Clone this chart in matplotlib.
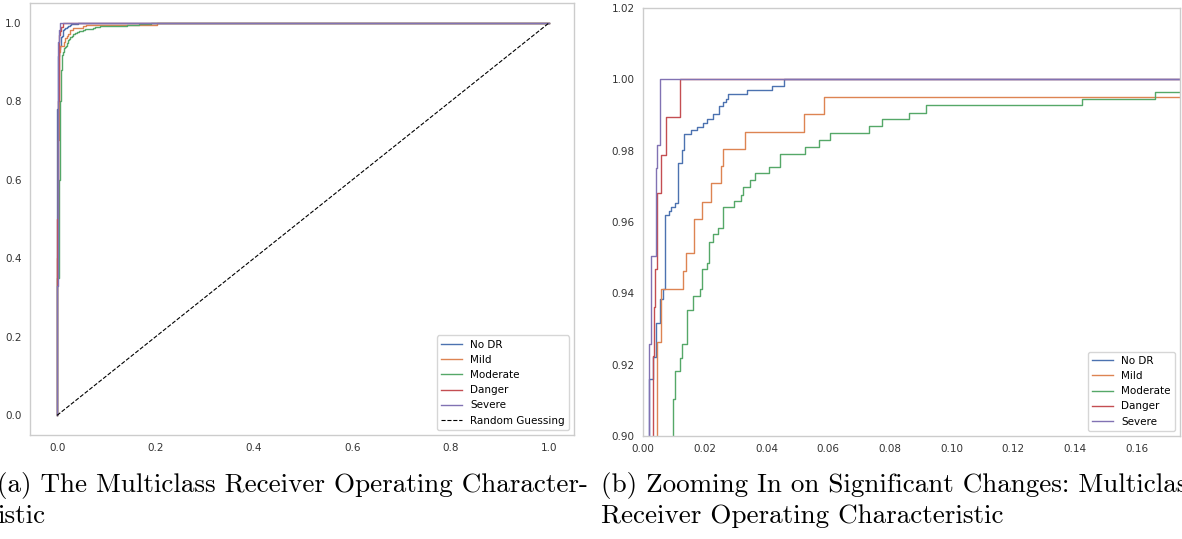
import matplotlib
matplotlib.use("Agg")
import matplotlib.pyplot as plt

# ---- data (ROC corner points) ----
class_names = ["No DR", "Mild", "Moderate", "Danger", "Severe"]
class_colors = ["#4c72b0", "#dd8452", "#55a868", "#c44e52", "#8172b3"]

fpr_nodr = [0, 0, 0.0010, 0.0020, 0.0031, 0.0042, 0.0055, 0.0064, 0.0072, 0.0083, 0.0092,
            0.0103, 0.0112, 0.0125, 0.0134, 0.0154, 0.0174, 0.0193, 0.0206, 0.0226, 0.0247,
            0.0260, 0.0269, 0.0276, 0.0336, 0.0417, 0.0458, 1.0]
tpr_nodr = [0, 0.78, 0.87, 0.916, 0.9222, 0.9318, 0.9385, 0.9413, 0.9619, 0.963, 0.9643,
            0.9654, 0.9766, 0.9802, 0.9846, 0.9857, 0.9866, 0.9878, 0.989, 0.9902, 0.9925,
            0.9936, 0.9946, 0.9959, 0.9969, 0.9981, 1.0, 1.0]

fpr_mild = [0, 0, 0.0020, 0.0035, 0.0044, 0.0057, 0.0131, 0.0139, 0.0165, 0.0192, 0.0219,
            0.0253, 0.0258, 0.0330, 0.0521, 0.0587, 0.203, 1.0]
tpr_mild = [0, 0.40, 0.70, 0.85, 0.9263, 0.9413, 0.9462, 0.9512, 0.9609, 0.9657, 0.9708,
            0.9757, 0.9806, 0.9853, 0.9904, 0.9951, 1.0, 1.0]

fpr_moderate = [0, 0, 0.0030, 0.0060, 0.0085, 0.0096, 0.0104, 0.0120, 0.0127, 0.0142, 0.0163,
                0.0185, 0.0192, 0.0206, 0.0215, 0.0228, 0.0244, 0.0260, 0.0295, 0.0316, 0.0325,
                0.0347, 0.0363, 0.0408, 0.0444, 0.0525, 0.0569, 0.0606, 0.0732, 0.0773, 0.0863,
                0.0916, 0.1424, 0.1658, 0.19, 1.0]
tpr_moderate = [0, 0.35, 0.60, 0.80, 0.88, 0.9105, 0.9182, 0.9219, 0.9257, 0.9353, 0.9392,
                0.9411, 0.9469, 0.9486, 0.9544, 0.9565, 0.9584, 0.9642, 0.9659, 0.9677, 0.9699,
                0.9717, 0.9736, 0.9755, 0.9792, 0.9811, 0.9831, 0.985, 0.9869, 0.9888, 0.9907,
                0.9927, 0.9946, 0.9964, 1.0, 1.0]

fpr_danger = [0, 0, 0.0020, 0.0033, 0.0037, 0.0039, 0.0046, 0.0058, 0.0075, 0.0120, 1.0]
tpr_danger = [0, 0.50, 0.80, 0.9223, 0.9362, 0.9467, 0.9682, 0.9787, 0.9895, 1.0, 1.0]

fpr_severe = [0, 0, 0.0010, 0.0018, 0.0026, 0.0042, 0.0046, 0.0055, 1.0]
tpr_severe = [0, 0.33, 0.60, 0.9257, 0.9506, 0.9752, 0.9815, 1.0, 1.0]

fpr_all = [fpr_nodr, fpr_mild, fpr_moderate, fpr_danger, fpr_severe]
tpr_all = [tpr_nodr, tpr_mild, tpr_moderate, tpr_danger, tpr_severe]

random_x = [0, 1]
random_y = [0, 1]

xticks_a = [0.0, 0.2, 0.4, 0.6, 0.8, 1.0]
yticks_a = [0.0, 0.2, 0.4, 0.6, 0.8, 1.0]
xticks_b = [0.00, 0.02, 0.04, 0.06, 0.08, 0.10, 0.12, 0.14, 0.16]
yticks_b = [0.90, 0.92, 0.94, 0.96, 0.98, 1.00, 1.02]

caption_a = ["(a) The Multiclass Receiver Operating Character-", "istic"]
caption_b = ["(b) Zooming In on Significant Changes: Multiclass",
             "Receiver Operating Characteristic"]

# ---- figure ----
W, H = 1182, 539
fig = plt.figure(figsize=(W / 100, H / 100), dpi=100)

def frac_box(x0, x1, ytop, ybot):
    return [x0 / W, 1 - ybot / H, (x1 - x0) / W, (ybot - ytop) / H]

ax_a = fig.add_axes(frac_box(30, 574, 3, 435))
ax_b = fig.add_axes(frac_box(643, 1180, 8, 436))

def style(ax):
    for s in ax.spines.values():
        s.set_color("#cccccc")
        s.set_linewidth(1.0)
    ax.tick_params(length=0, pad=6, labelsize=7.5, colors="#333333")
    ax.grid(False)

for fx, ty, name, col in zip(fpr_all, tpr_all, class_names, class_colors):
    ax_a.plot(fx, ty, drawstyle="steps-post", color=col, lw=1.0, label=name)
ax_a.plot(random_x, random_y, "k--", lw=0.8, label="Random Guessing")
ax_a.set_xlim(-0.055, 1.05)
ax_a.set_ylim(-0.05, 1.05)
ax_a.set_xticks(xticks_a)
ax_a.set_yticks(yticks_a)
ax_a.set_xticklabels([f"{v:.1f}" for v in xticks_a])
ax_a.set_yticklabels([f"{v:.1f}" for v in yticks_a])
style(ax_a)
ax_a.legend(loc="lower right", fontsize=7.5)

for fx, ty, name, col in zip(fpr_all, tpr_all, class_names, class_colors):
    ax_b.plot(fx, ty, drawstyle="steps-post", color=col, lw=1.0, label=name)
ax_b.set_xlim(0.0, 0.174)
ax_b.set_ylim(0.90, 1.02)
ax_b.set_xticks(xticks_b)
ax_b.set_yticks(yticks_b)
ax_b.set_xticklabels([f"{v:.2f}" for v in xticks_b])
ax_b.set_yticklabels([f"{v:.2f}" for v in yticks_b])
style(ax_b)
ax_b.legend(loc="lower right", fontsize=7.5)

cap_kw = dict(family="cmr10", fontsize=19.5, color="black", va="baseline", ha="left")
fig.text(-3 / W, 1 - 492 / H, caption_a[0], **cap_kw)
fig.text(-3 / W, 1 - 523 / H, caption_a[1], **cap_kw)
fig.text(601 / W, 1 - 492 / H, caption_b[0], **cap_kw)
fig.text(601 / W, 1 - 523 / H, caption_b[1], **cap_kw)

fig.savefig("out.png", dpi=100)
